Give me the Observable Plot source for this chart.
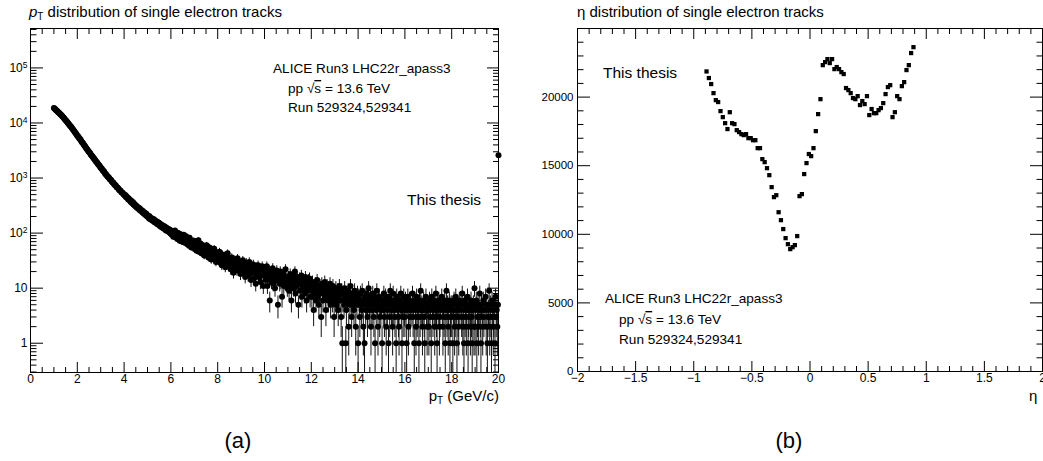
<!DOCTYPE html>
<html><head><meta charset="utf-8">
<script src="https://cdn.jsdelivr.net/npm/d3@7"></script>
<script src="https://cdn.jsdelivr.net/npm/@observablehq/plot@0.6"></script>
<style>
html,body{margin:0;padding:0;background:#fff;overflow:hidden;}
body{width:1043px;height:461px;position:relative;font-family:"Liberation Sans",Arial,sans-serif;color:#000;}
.abs{position:absolute;}
</style></head><body>
<div id="left" class="abs" style="left:0;top:0"></div>
<div id="right" class="abs" style="left:520px;top:0"></div>
<svg id="overlay" width="1043" height="461" style="position:absolute;left:0;top:0;pointer-events:none" font-family="Liberation Sans, Arial, sans-serif" fill="#000">
  <text x="29" y="17" font-size="15"><tspan font-style="italic">p</tspan><tspan font-size="10" dy="3">T</tspan><tspan dy="-3"> distribution of single electron tracks</tspan></text>
  <text x="577" y="17" font-size="15">η distribution of single electron tracks</text>
  <text x="273" y="73" font-size="13.6">ALICE Run3 LHC22r_apass3</text>
  <text x="288" y="93" font-size="13.6">pp  √<tspan style="text-decoration:overline">s</tspan> = 13.6 TeV</text>
  <text x="288" y="112" font-size="13.6">Run 529324,529341</text>
  <text x="407" y="205" font-size="15.5">This thesis</text>
  <text x="603" y="78" font-size="15.5">This thesis</text>
  <text x="605" y="303" font-size="13.6">ALICE Run3 LHC22r_apass3</text>
  <text x="619" y="324" font-size="13.6">pp  √<tspan style="text-decoration:overline">s</tspan> = 13.6 TeV</text>
  <text x="619" y="344" font-size="13.6">Run 529324,529341</text>
  <text x="499" y="401" font-size="15" text-anchor="end">p<tspan font-size="10" dy="3">T</tspan><tspan dy="-3"> (GeV/c)</tspan></text>
  <text x="1029" y="401" font-size="15">η</text>
  <text x="238" y="448" font-size="22" text-anchor="middle">(a)</text>
  <text x="789" y="448" font-size="22" text-anchor="middle">(b)</text>
</svg>
<script>
// ---------- pT distribution (bin centres start at 1.000 GeV/c, width 0.025) ----------
const ptFirst = 1.0, ptStep = 0.025;
const ptCounts = [
// 1.000 - 1.975
18700,18350,17950,17480,17080,16690,16350,15880,15460,15170,
14830,14420,14060,13780,13430,13010,12680,12290,11950,11530,
11170,10930,10640,10280,9980,9720,9430,9100,8820,8590,
8330,8040,7790,7570,7320,7030,6780,6590,6370,6110,
// 2.000 - 2.975
5890,5740,5560,5350,5180,5040,4870,4660,4490,4380,
4230,4060,3920,3810,3680,3520,3390,3310,3210,3070,
2970,2900,2810,2690,2590,2530,2450,2350,2280,2230,
2150,2060,1990,1950,1890,1810,1760,1720,1670,1600,
// 3.000 - 3.975
1540,1510,1470,1400,1360,1340,1300,1230,1190,1170,
1140,1090,1060,1045,1020,970,940,930,910,865,
840,830,815,775,750,745,728,690,672,668,
652,618,603,598,588,558,545,541,532,509,
// 4.000 - 4.975
496,481,490,452,468,437,441,409,426,398,
401,372,389,361,349,366,332,345,318,327,
301,315,289,298,279,290,266,281,255,264,
259,238,251,229,240,221,231,212,224,203,
// 5.000 - 5.975
211,196,189,204,181,193,176,186,170,181,
166,179,157,170,154,165,148,160,143,155,
152,134,147,131,142,126,138,122,134,119,
129,113,127,110,121,108,119,104,115,99,
// 6.000 - 6.975
112,94,108,97,86,104,91,111,83,99,
95,78,101,84,92,73,96,87,71,90,
85,68,93,74,81,66,88,72,63,79,
76,59,82,65,74,55,71,68,57,73,
// 7.000 - 7.975
66,51,70,57,48,63,55,74,46,59,
52,64,43,58,61,45,54,39,57,50,
47,60,41,53,36,49,55,42,47,33,
51,44,38,46,52,35,43,30,45,40,
// 8.000 - 8.975
42,33,37,46,29,38,34,26,41,31,
36,28,39,24,33,35,27,43,30,25,
34,29,22,31,36,26,30,19,33,27,
24,32,28,21,35,25,29,23,27,18,
// 9.000 - 9.975
28,21,25,32,19,24,27,16,23,29,
20,26,17,22,30,18,24,14,21,25,
19,27,15,23,20,12,24,18,22,26,
16,20,23,13,21,17,25,19,11,22,
// 10.000 - 10.975
17,22,14,19,25,11,18,16,21,6,
15,20,13,17,23,12,16,19,10,18,
14,21,16,5,15,18,12,20,13,17,
7,15,19,11,14,16,22,12,15,10,
// 11.000 - 11.975
13,16,9,14,18,11,6,15,12,17,
10,13,20,8,14,11,16,12,5,13,
15,9,12,17,7,11,14,10,13,8,
16,11,6,12,9,14,10,15,7,11,
// 12.000 - 12.975
10,7,13,9,4,11,8,12,6,9,
14,7,10,5,8,11,9,3,12,8,
6,10,9,13,7,4,9,11,8,6,
10,7,12,5,8,9,6,11,7,3,
// 13.000 - 13.975
8,6,10,5,7,9,4,7,11,6,
8,3,9,1,6,8,5,10,7,1,
4,8,6,9,2,7,5,11,6,3,
8,5,7,4,9,6,2,7,5,8,
// 14.000 - 14.975
1,7,5,3,8,6,4,9,5,2,
6,1,7,4,5,8,3,6,10,4,
5,7,2,6,4,8,5,3,7,1,
6,4,9,5,2,6,7,3,5,4,
// 15.000 - 15.975
5,1,6,4,8,3,5,7,2,6,
4,5,1,7,3,9,5,4,6,2,
8,4,5,3,6,1,7,4,5,3,
2,6,5,8,4,1,5,3,7,4,
// 16.000 - 16.975
3,6,4,1,5,7,2,4,6,3,
5,0,4,8,3,5,1,6,4,2,
7,3,5,4,1,6,3,9,4,5,
2,4,6,3,1,5,7,4,2,5,
// 17.000 - 17.975
4,2,6,3,5,1,7,4,3,5,
6,2,4,8,3,1,5,4,6,2,
3,5,0,7,4,2,5,3,6,1,
4,9,3,5,2,4,6,1,3,5,
// 18.000 - 18.975
3,5,1,4,6,2,3,7,4,1,
5,3,2,6,4,0,5,3,8,2,
4,1,6,3,5,2,4,7,1,3,
5,4,2,6,3,1,4,5,2,10,
// 19.000 - 19.975
2,4,6,1,3,5,2,4,8,3,
1,5,4,2,6,3,0,4,7,2,
5,1,3,4,9,2,5,3,1,6,
4,2,3,5,1,7,3,4,2,5,
// 20.000
2600];
const ptMajorTicks = [0,2,4,6,8,10,12,14,16,18,20];
const ptLogMajor = [1,10,100,1000,10000,100000];
const ptLogLabels = ["1","10","10^2","10^3","10^4","10^5"];

// ---------- eta distribution (bin centres start at -0.89, width 0.02) ----------
const etaFirst = -0.89, etaStep = 0.02;
const etaCounts = [
21870,21390,20950,20290,19780,19640,18980,18540,18100,17670,
18900,18100,18030,17590,17450,17300,17230,17300,17010,17010,
16860,16860,16280,16280,15480,15260,14820,14310,13440,12710,
12850,11610,11030,10380,9720,9280,8920,9060,9210,9870,
12780,12930,14390,15190,15850,15700,16280,17520,18760,19850,
22330,22550,22770,22480,22770,22040,22190,22040,21820,21680,
20660,20510,20290,19930,19850,20070,19420,19710,19490,20070,
18690,19130,18830,18830,19050,19200,19560,20220,20730,20870,
18540,18900,20070,19850,20800,21090,21970,22330,23210,23640];
const etaMajorTicks = [-2,-1.5,-1,-0.5,0,0.5,1,1.5,2];
const etaYMajorTicks = [0,5000,10000,15000,20000];

// ---------- build tables ----------
const ptData = ptCounts.map((n,i)=>({pt: +(ptFirst+i*ptStep).toFixed(3), n})).filter(d=>d.n>0);
const etaData = etaCounts.map((n,i)=>({eta: +(etaFirst+i*etaStep).toFixed(2), n}));
const ptYMin = 0.294, ptYMax = 5.2e5;
const ptMinorX = d3.range(0, 20.001, 0.5).filter(v => v % 2 !== 0);
const ptLogMinor = [];
for (const dec of [0.1,1,10,100,1000,10000,100000]) for (let m=2;m<=9;m++){const v=dec*m; if(v>=ptYMin && v<=ptYMax) ptLogMinor.push(v);}
const etaMinorX = d3.range(-20, 21, 1).map(v=>v/10).filter(v => Math.abs(v*2 - Math.round(v*2))>1e-9);
const etaYMinor = d3.range(1000, 25000, 1000).filter(v => v % 5000 !== 0);
const fmtMinus = d => d < 0 ? "\u2212" + Math.abs(d) : String(d);

const baseStyle = {fontFamily: "Liberation Sans, Arial, sans-serif", fontSize: "11.5px", color: "#000", background: "transparent", overflow: "visible", maxWidth: "none"};
const noText = {fill: "none", label: null};

const left = Plot.plot({
  width: 520, height: 410,
  marginLeft: 30, marginRight: 22, marginTop: 28, marginBottom: 38,
  style: baseStyle,
  x: {domain: [0, 20]},
  y: {type: "log", domain: [ptYMin, ptYMax]},
  marks: [
    Plot.ruleX(ptData, {x: "pt", y1: d => Math.max(d.n - Math.sqrt(d.n), ptYMin), y2: d => d.n + Math.sqrt(d.n), stroke: "#111", strokeWidth: 1}),
    Plot.dot(ptData, {x: "pt", y: "n", r: 3, fill: "#000"}),
    Plot.frame({stroke: "#000"}),
    Plot.axisX(ptMajorTicks, {anchor: "bottom", tickSize: -10, ...noText}),
    Plot.axisX(ptMinorX, {anchor: "bottom", tickSize: -5, ...noText}),
    Plot.axisX(ptMajorTicks, {anchor: "top", tickSize: -10, ...noText}),
    Plot.axisX(ptMinorX, {anchor: "top", tickSize: -5, ...noText}),
    Plot.axisX(ptMajorTicks, {anchor: "bottom", tickSize: 0, tickPadding: 2, tickFormat: d => String(d), label: null, fontSize: 12}),
    Plot.axisY(ptLogMajor, {anchor: "left", tickSize: -13, ...noText}),
    Plot.axisY(ptLogMinor, {anchor: "left", tickSize: -6.5, ...noText}),
    Plot.axisY(ptLogMajor, {anchor: "right", tickSize: -12, ...noText}),
    Plot.axisY(ptLogMinor, {anchor: "right", tickSize: -6, ...noText}),
    Plot.axisY(ptLogMajor, {anchor: "left", tickSize: 0, tickPadding: 3, tickFormat: d => ptLogLabels[ptLogMajor.indexOf(d)], label: null, fontSize: 12})
  ]
});
document.getElementById("left").appendChild(left);
// superscripts for log labels
left.querySelectorAll("text").forEach(t => {
  const m = /^10\^(\d)$/.exec(t.textContent);
  if (m) {
    t.textContent = "10";
    const ts = document.createElementNS("http://www.w3.org/2000/svg", "tspan");
    ts.setAttribute("dy", "-0.45em");
    ts.setAttribute("font-size", "8.5");
    ts.textContent = m[1];
    t.appendChild(ts);
  }
});

const right = Plot.plot({
  width: 530, height: 410,
  marginLeft: 57, marginRight: 8, marginTop: 28, marginBottom: 39,
  style: baseStyle,
  x: {domain: [-2, 2]},
  y: {domain: [0, 25000]},
  marks: [
    Plot.dot(etaData, {x: "eta", y: "n", r: 2.4, symbol: "square", fill: "#000"}),
    Plot.frame({stroke: "#000"}),
    Plot.axisX(etaMajorTicks, {anchor: "bottom", tickSize: -10, ...noText}),
    Plot.axisX(etaMinorX, {anchor: "bottom", tickSize: -5, ...noText}),
    Plot.axisX(etaMajorTicks, {anchor: "top", tickSize: -10, ...noText}),
    Plot.axisX(etaMinorX, {anchor: "top", tickSize: -5, ...noText}),
    Plot.axisX(etaMajorTicks, {anchor: "bottom", tickSize: 0, tickPadding: 2, tickFormat: fmtMinus, label: null, fontSize: 12}),
    Plot.axisY(etaYMajorTicks, {anchor: "left", tickSize: -13, ...noText}),
    Plot.axisY(etaYMinor, {anchor: "left", tickSize: -6.5, ...noText}),
    Plot.axisY(etaYMajorTicks, {anchor: "right", tickSize: -13, ...noText}),
    Plot.axisY(etaYMinor, {anchor: "right", tickSize: -6.5, ...noText}),
    Plot.axisY(etaYMajorTicks, {anchor: "left", tickSize: 0, tickPadding: 4, tickFormat: d => String(d), label: null, fontSize: 11.5})
  ]
});
document.getElementById("right").appendChild(right);
</script>
</body></html>
